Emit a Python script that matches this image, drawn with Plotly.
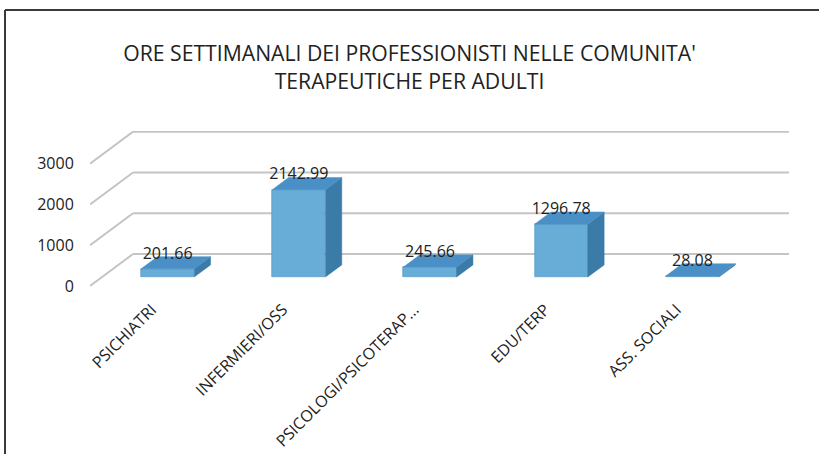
import plotly.graph_objects as go

categories = ["PSICHIATRI", "INFERMIERI/OSS", "PSICOLOGI/PSICOTERAP...", "EDU/TERP", "ASS. SOCIALI"]
ore = [201.66, 2142.99, 245.66, 1296.78, 28.08]
y_ticks = [0, 1000, 2000, 3000]

# fake 3d: shift per unit of depth, in data units
SX = 0.328
SY = 784
D_FRONT = 0.28
D_BACK = 0.66
BAR_W = 0.405

W, H = 819, 454
L, R, T, B = 90, 30, 131, 167
PW, PH = W - L - R, H - T - B

front_col = "#67ADD8"
top_col = "#4A90C6"
side_col = "#3B7BA8"
grid_col = "#C4C4C4"

fig = go.Figure()

# back wall + side diagonals, kept under the bars
for v in y_ticks:
    fig.add_shape(type="line", xref="x", yref="y", layer="below",
                  x0=-0.5, y0=v, x1=-0.5 + SX, y1=v + SY,
                  line=dict(color=grid_col, width=2))
    fig.add_shape(type="line", xref="x", yref="y", layer="below",
                  x0=-0.5 + SX, y0=v + SY, x1=4.5 + SX, y1=v + SY,
                  line=dict(color=grid_col, width=2))

dx = SX * (D_BACK - D_FRONT)
b1 = SY * D_FRONT
b2 = SY * D_BACK

sx_, sy_, tx_, ty_ = [], [], [], []
for i, v in enumerate(ore):
    xl = i + SX * D_FRONT - BAR_W / 2
    xr = xl + BAR_W
    # side face
    sx_ += [xr, xr, xr + dx, xr + dx, xr, None]
    sy_ += [b1, b1 + v, b2 + v, b2, b1, None]
    # top face
    tx_ += [xl, xr, xr + dx, xl + dx, xl, None]
    ty_ += [b1 + v, b1 + v, b2 + v, b2 + v, b1 + v, None]

fig.add_trace(go.Bar(
    x=[i + SX * D_FRONT for i in range(len(ore))],
    y=ore,
    base=b1,
    width=BAR_W,
    marker=dict(color=front_col, line=dict(color="#4F8FBF", width=0.6)),
    showlegend=False,
))

fig.add_trace(go.Scatter(x=sx_, y=sy_, mode="lines", fill="toself", fillcolor=side_col,
                         line=dict(color=side_col, width=0.5), hoverinfo="skip", showlegend=False))
fig.add_trace(go.Scatter(x=tx_, y=ty_, mode="lines", fill="toself", fillcolor=top_col,
                         line=dict(color=top_col, width=0.5), hoverinfo="skip", showlegend=False))

fig.add_trace(go.Scatter(
    x=[i + SX * D_FRONT for i in range(len(ore))],
    y=[v + b2 + 50 for v in ore],
    mode="text",
    text=[f"{v:.2f}" for v in ore],
    textposition="middle center",
    textfont=dict(size=16, color="#222222"),
    hoverinfo="skip", showlegend=False,
))

fig.update_xaxes(
    range=[-0.5, 4.5 + SX],
    tickvals=[i - 0.03 for i in range(len(categories))],
    ticktext=categories,
    tickangle=-45,
    automargin=False,
    showgrid=False, zeroline=False, showline=False,
    ticks="outside", ticklen=6, tickcolor="rgba(0,0,0,0)",
    tickfont=dict(size=16, color="#222222"),
)
fig.update_yaxes(
    range=[-25, 3800],
    tickvals=y_ticks,
    ticktext=[str(v) for v in y_ticks],
    automargin=False,
    showgrid=False, zeroline=False, showline=False,
    ticks="outside", ticklen=12, tickcolor="rgba(0,0,0,0)",
    tickfont=dict(size=16, color="#222222"),
)

# outer frame (cropped: only top and left edges visible)
def px_x(p):
    return (p - L) / PW

def px_y(p):
    return (H - B - p) / PH

fig.add_shape(type="line", xref="paper", yref="paper",
              x0=px_x(5), x1=px_x(W + 5), y0=px_y(10), y1=px_y(10),
              line=dict(color="#3A3A3A", width=2))
fig.add_shape(type="line", xref="paper", yref="paper",
              x0=px_x(5), x1=px_x(5), y0=px_y(10), y1=px_y(H + 5),
              line=dict(color="#3A3A3A", width=2))

fig.update_layout(
    width=W, height=H,
    margin=dict(l=L, r=R, t=T, b=B, autoexpand=False),
    paper_bgcolor="white",
    plot_bgcolor="rgba(0,0,0,0)",
    font=dict(family="Open Sans", color="#222222"),
    title=dict(
        text="ORE SETTIMANALI DEI PROFESSIONISTI NELLE COMUNITA'<br>TERAPEUTICHE PER ADULTI",
        x=0.5, xref="container", xanchor="center",
        y=1 - 61 / H, yref="container", yanchor="top",
        font=dict(size=21.2, color="#222222"),
    ),
    bargap=0,
)

fig.write_html("out.html", config={"displayModeBar": False},
               post_script="document.body.style.margin='0px';")
